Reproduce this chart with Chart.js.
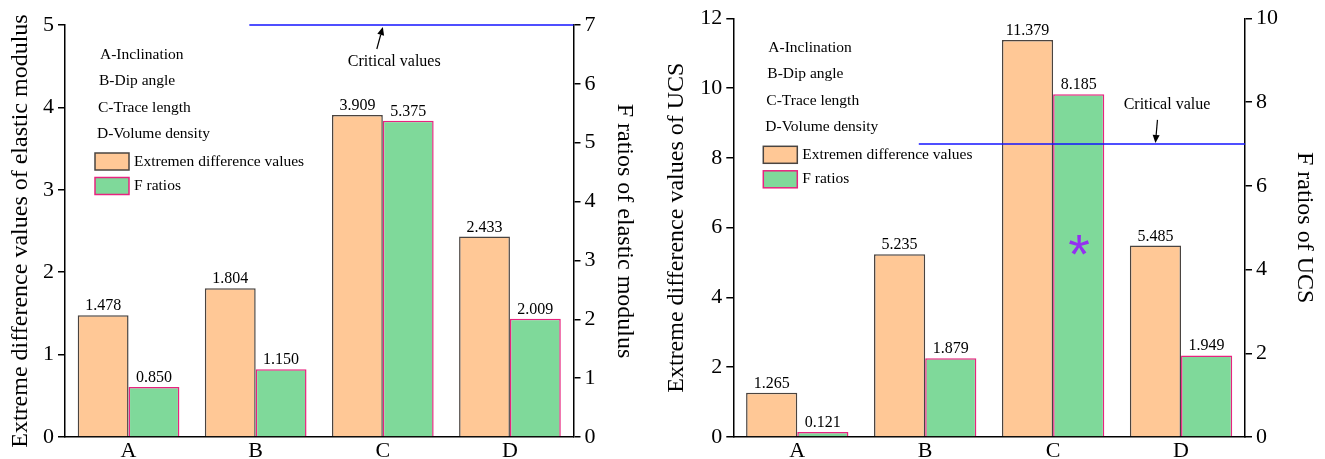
<!DOCTYPE html>
<html>
<head>
<meta charset="utf-8">
<script src="https://cdn.jsdelivr.net/npm/chart.js@4.4.1/dist/chart.umd.min.js"></script>
<style>
  body { margin: 0; background: #fff; }
  #wrap { position: relative; width: 1325px; height: 459px; }
  canvas { position: absolute; top: 0; }
  #modulus { left: 0; }
  #ucs { left: 656px; }
</style>
</head>
<body>
<div id="wrap">
  <canvas id="modulus" width="645" height="459"></canvas>
  <canvas id="ucs" width="669" height="459"></canvas>
</div>
<script>
const categories = ["A", "B", "C", "D"];
const factorNotes = ["A-Inclination", "B-Dip angle", "C-Trace length", "D-Volume density"];
const seriesNames = ["Extremen difference values", "F ratios"];

// elastic modulus panel
const modulusRange = [1.478, 1.804, 3.909, 2.433];
const modulusF = [0.850, 1.150, 5.375, 2.009];
const modulusCritical = 7;
const modulusRangeTicks = [0, 1, 2, 3, 4, 5];
const modulusFTicks = [0, 1, 2, 3, 4, 5, 6, 7];
const modulusMarks = ["", "", "", ""];

// UCS panel
const ucsRange = [1.265, 5.235, 11.379, 5.485];
const ucsF = [0.121, 1.879, 8.185, 1.949];
const ucsCritical = 7;
const ucsRangeTicks = [0, 2, 4, 6, 8, 10, 12];
const ucsFTicks = [0, 2, 4, 6, 8, 10];
const ucsMarks = ["", "", "*", ""];

const ORANGE = "#FFC896";
const ORANGE_EDGE = "#4a4440";
const GREEN = "#7FD99A";
const PINK = "#E8237F";
const SERIF = "'Liberation Serif', 'Times New Roman', serif";

Chart.defaults.font.family = SERIF;
Chart.defaults.color = "#000";

function tickRange(list) {
  return { min: list[0], max: list[list.length - 1], step: list[1] - list[0] };
}

function drawArrow(ctx, x0, y0, x1, y1) {
  const ang = Math.atan2(y1 - y0, x1 - x0);
  const len = 8, half = 3.5;
  ctx.beginPath();
  ctx.moveTo(x0, y0);
  ctx.lineTo(x1 - Math.cos(ang) * len, y1 - Math.sin(ang) * len);
  ctx.stroke();
  ctx.beginPath();
  ctx.moveTo(x1, y1);
  ctx.lineTo(x1 - Math.cos(ang) * len - Math.sin(ang) * half, y1 - Math.sin(ang) * len + Math.cos(ang) * half);
  ctx.lineTo(x1 - Math.cos(ang) * len + Math.sin(ang) * half, y1 - Math.sin(ang) * len - Math.cos(ang) * half);
  ctx.closePath();
  ctx.fill();
}

function yAxis(position, ticks, title, width) {
  const r = tickRange(ticks);
  return {
    type: "linear",
    position: position,
    min: r.min,
    max: r.max,
    ticks: { stepSize: r.step, font: { size: 22 }, color: "#000", padding: 4 },
    grid: { display: true, drawOnChartArea: false, drawTicks: true, tickLength: 7, color: "#000", lineWidth: 1.5 },
    border: { display: true, color: "#000", width: 1.5 },
    title: { display: true, text: title, font: { size: 24 }, color: "#000", padding: { top: 6.5, bottom: 0 } },
    afterFit: (s) => { s.width = width; }
  };
}

function makeChart(canvasId, spec) {
  const extras = {
    id: "extras",
    afterDraw(chart) {
      const ctx = chart.ctx;
      const area = chart.chartArea;
      const xs = chart.scales.x;
      const yf = chart.scales.y2;
      ctx.save();

      // values above the bars
      ctx.fillStyle = "#000";
      ctx.font = "16px " + SERIF;
      ctx.textAlign = "center";
      ctx.textBaseline = "alphabetic";
      [spec.range, spec.f].forEach((vals, d) => {
        chart.getDatasetMeta(d).data.forEach((bar, i) => {
          ctx.fillText(vals[i].toFixed(3), bar.x, bar.y - 5);
        });
      });

      // factor list
      ctx.font = "15.5px " + SERIF;
      ctx.textAlign = "left";
      ctx.textBaseline = "middle";
      factorNotes.forEach((t, i) => {
        ctx.fillText(t, area.left + 35 - i, area.top + 29.5 + i * 26.5);
      });

      // legend
      const lx = area.left + 30;
      [[ORANGE, ORANGE_EDGE], [GREEN, PINK]].forEach((c, i) => {
        const by = area.top + 128 + i * 24.5;
        ctx.fillStyle = c[0];
        ctx.fillRect(lx, by, 34, 17);
        ctx.strokeStyle = c[1];
        ctx.lineWidth = 1.5;
        ctx.strokeRect(lx, by, 34, 17);
        ctx.fillStyle = "#000";
        ctx.fillText(seriesNames[i], lx + 39, by + 8.5);
      });

      // critical value line + arrow + label
      const cy = yf.getPixelForValue(spec.critical);
      ctx.strokeStyle = "#1414ff";
      ctx.lineWidth = 1.5;
      ctx.beginPath();
      ctx.moveTo(xs.getPixelForValue(spec.critStart), cy);
      ctx.lineTo(area.right, cy);
      ctx.stroke();

      const dir = spec.labelBelow ? 1 : -1;
      const tipX = xs.getPixelForValue(spec.arrowX);
      ctx.strokeStyle = "#000";
      ctx.fillStyle = "#000";
      ctx.lineWidth = 1.2;
      drawArrow(ctx, tipX + spec.arrowLean, cy + dir * 24, tipX, cy + dir * spec.tipGap);
      ctx.font = "16px " + SERIF;
      ctx.textAlign = "center";
      ctx.textBaseline = "middle";
      ctx.fillText(spec.critLabel, xs.getPixelForValue(spec.textX), cy + dir * spec.textGap);

      // significance marks inside the F-ratio bars
      ctx.fillStyle = "#9430F0";
      spec.marks.forEach((m, i) => {
        if (!m) return;
        const bar = chart.getDatasetMeta(1).data[i];
        ctx.font = "100px 'Liberation Sans', Arial, sans-serif";
        const probe = ctx.measureText(m);
        const size = 100 * 20 / (probe.actualBoundingBoxAscent + probe.actualBoundingBoxDescent);
        ctx.font = size + "px 'Liberation Sans', Arial, sans-serif";
        ctx.textAlign = "left";
        ctx.textBaseline = "alphabetic";
        const mm = ctx.measureText(m);
        const cx = bar.x;
        const my = bar.base + (bar.y - bar.base) * 0.56;
        const w = mm.actualBoundingBoxRight + mm.actualBoundingBoxLeft;
        const h = mm.actualBoundingBoxAscent + mm.actualBoundingBoxDescent;
        ctx.fillText(m, cx - w / 2 + mm.actualBoundingBoxLeft, my + h / 2 - mm.actualBoundingBoxDescent);
      });

      ctx.restore();
    }
  };

  return new Chart(document.getElementById(canvasId), {
    type: "bar",
    data: {
      labels: categories,
      datasets: [
        {
          label: seriesNames[0],
          data: spec.range,
          yAxisID: "y",
          backgroundColor: ORANGE,
          borderColor: ORANGE_EDGE,
          borderWidth: 1.5,
          categoryPercentage: 0.8,
          barPercentage: 1
        },
        {
          label: seriesNames[1],
          data: spec.f,
          yAxisID: "y2",
          backgroundColor: GREEN,
          borderColor: PINK,
          borderWidth: 1.5,
          categoryPercentage: 0.8,
          barPercentage: 1
        }
      ]
    },
    options: {
      responsive: false,
      animation: false,
      devicePixelRatio: 1,
      layout: { padding: { top: spec.top, left: 0, right: 0, bottom: 0 } },
      plugins: { legend: { display: false }, tooltip: { enabled: false } },
      scales: {
        x: {
          type: "category",
          grid: { display: false, drawTicks: false },
          border: { display: true, color: "#000", width: 1.5 },
          ticks: { font: { size: 22 }, color: "#000", padding: 1 },
          afterFit: (s) => { s.height = 22; }
        },
        y: yAxis("left", spec.rangeTicks, spec.leftTitle, spec.leftWidth),
        y2: yAxis("right", spec.fTicks, spec.rightTitle, spec.rightWidth)
      }
    },
    plugins: [extras]
  });
}

makeChart("modulus", {
  range: modulusRange,
  f: modulusF,
  rangeTicks: modulusRangeTicks,
  fTicks: modulusFTicks,
  critical: modulusCritical,
  marks: modulusMarks,
  leftTitle: "Extreme difference values of elastic modulus",
  rightTitle: "F ratios of elastic modulus",
  critLabel: "Critical values",
  top: 25,
  leftWidth: 65,
  rightWidth: 71.5,
  critStart: 0.95,
  arrowX: 2.0,
  arrowLean: -6,
  tipGap: 2,
  textX: 2.09,
  textGap: 36.5,
  labelBelow: true
});

makeChart("ucs", {
  range: ucsRange,
  f: ucsF,
  rangeTicks: ucsRangeTicks,
  fTicks: ucsFTicks,
  critical: ucsCritical,
  marks: ucsMarks,
  leftTitle: "Extreme difference values of UCS",
  rightTitle: "F ratios of UCS",
  critLabel: "Critical value",
  top: 18.3,
  leftWidth: 77.3,
  rightWidth: 80,
  critStart: 0.95,
  arrowX: 2.8,
  arrowLean: 2,
  tipGap: 1,
  textX: 2.89,
  textGap: 39,
  labelBelow: false
});
</script>
</body>
</html>
